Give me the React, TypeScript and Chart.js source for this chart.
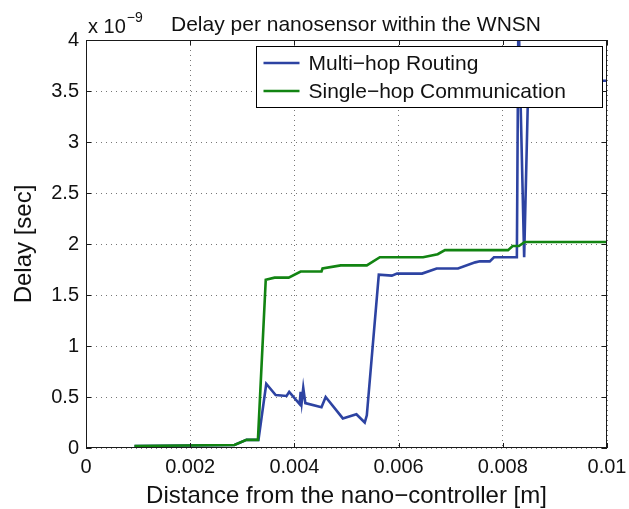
import React, { useEffect, useRef } from "react";
import { Chart, registerables } from "chart.js";

Chart.register(...registerables);

// ---- data (delay in units of 1e-9 s, distance in m) ----
const multiHopDistance = [0.00093, 0.002, 0.00285, 0.00308, 0.00331, 0.00346, 0.00364, 0.00385, 0.0039, 0.0041, 0.00412, 0.00414, 0.00417, 0.00421, 0.00452, 0.0046, 0.00493, 0.00519, 0.00535, 0.00539, 0.00562, 0.00587, 0.00597, 0.00645, 0.00673, 0.00714, 0.00747, 0.00756, 0.00775, 0.00783, 0.00827, 0.0083, 0.00841, 0.00849, 0.01];
const multiHopDelay = [0.02, 0.025, 0.03, 0.08, 0.08, 0.63, 0.52, 0.51, 0.55, 0.43, 0.55, 0.45, 0.59, 0.44, 0.4, 0.5, 0.29, 0.33, 0.25, 0.32, 1.7, 1.69, 1.71, 1.71, 1.76, 1.76, 1.82, 1.83, 1.83, 1.87, 1.87, 4.3, 1.87, 3.6, 3.6];

const singleHopDistance = [0.00093, 0.00285, 0.00308, 0.0033, 0.00345, 0.00362, 0.00389, 0.00412, 0.00452, 0.00454, 0.00489, 0.00539, 0.00564, 0.00647, 0.00675, 0.00689, 0.0081, 0.00819, 0.00831, 0.00842, 0.01];
const singleHopDelay = [0.02, 0.03, 0.08, 0.08, 1.65, 1.67, 1.67, 1.73, 1.73, 1.76, 1.79, 1.79, 1.87, 1.87, 1.9, 1.94, 1.94, 1.98, 1.98, 2.02, 2.02];

const seriesNames = ["Multi\u2212hop Routing", "Single\u2212hop Communication"];
const xTickValues = [0, 0.002, 0.004, 0.006, 0.008, 0.01];
const xTickLabels = ["0", "0.002", "0.004", "0.006", "0.008", "0.01"];
const yTickValues = [0, 0.5, 1, 1.5, 2, 2.5, 3, 3.5, 4];
const yTickLabels = ["0", "0.5", "1", "1.5", "2", "2.5", "3", "3.5", "4"];

const titleText = "Delay per nanosensor within the WNSN";
const xTitle = "Distance from the nano\u2212controller [m]";
const yTitle = "Delay [sec]";
const multiplierBase = "x 10";
const multiplierExp = "\u22129";

const BLUE = "#2d43a2";
const GREEN = "#128412";
const FONT = "'Liberation Sans', Arial, Helvetica, sans-serif";

const decorPlugin = {
  id: "decor",
  afterDraw(chart: any) {
    const ctx = chart.ctx as CanvasRenderingContext2D;
    const { left, right, top, bottom } = chart.chartArea;
    const xs = chart.scales.x;
    const ys = chart.scales.y;
    ctx.save();

    // legend
    const lx0 = right - 350.5, lx1 = right - 4.5, ly0 = top + 6.5, ly1 = top + 67.5;
    ctx.fillStyle = "#fff";
    ctx.fillRect(lx0, ly0, lx1 - lx0, ly1 - ly0);
    ctx.strokeStyle = "#000";
    ctx.lineWidth = 1;
    ctx.strokeRect(lx0, ly0, lx1 - lx0, ly1 - ly0);
    const rows = [top + 23, top + 51];
    const colors = [BLUE, GREEN];
    ctx.font = `21px ${FONT}`;
    ctx.textBaseline = "middle";
    ctx.textAlign = "left";
    for (let i = 0; i < 2; i++) {
      ctx.strokeStyle = colors[i];
      ctx.lineWidth = 2.6;
      ctx.beginPath();
      ctx.moveTo(lx0 + 7, rows[i]);
      ctx.lineTo(lx0 + 43, rows[i]);
      ctx.stroke();
      ctx.fillStyle = "#111";
      ctx.fillText(seriesNames[i], lx0 + 52, rows[i] + 1);
    }

    // frame
    ctx.strokeStyle = "#1a1a1a";
    ctx.lineWidth = 1;
    ctx.strokeRect(left + 0.5, top + 0.5, right - left - 1, bottom - top - 1);

    // inward ticks
    ctx.beginPath();
    for (const v of xTickValues) {
      const px = Math.round(xs.getPixelForValue(v)) + 0.5;
      ctx.moveTo(px, bottom);
      ctx.lineTo(px, bottom - 5);
      ctx.moveTo(px, top);
      ctx.lineTo(px, top + 5);
    }
    for (const v of yTickValues) {
      const py = Math.round(ys.getPixelForValue(v)) + 0.5;
      ctx.moveTo(left, py);
      ctx.lineTo(left + 5, py);
      ctx.moveTo(right, py);
      ctx.lineTo(right - 5, py);
    }
    ctx.stroke();

    // title
    ctx.fillStyle = "#111";
    ctx.textBaseline = "alphabetic";
    ctx.font = `21px ${FONT}`;
    ctx.fillText(titleText, 171, 31);

    // multiplier
    ctx.font = `20px ${FONT}`;
    ctx.fillText(multiplierBase, 88, 33);
    const w = ctx.measureText(multiplierBase).width;
    ctx.font = `14px ${FONT}`;
    ctx.fillText(multiplierExp, 88 + w + 1, 22);

    // axis titles
    ctx.font = `24px ${FONT}`;
    ctx.textAlign = "center";
    ctx.fillText(xTitle, (left + right) / 2, 503);
    ctx.save();
    ctx.translate(31, (top + bottom) / 2);
    ctx.rotate(-Math.PI / 2);
    ctx.fillText(yTitle, 0, 0);
    ctx.restore();

    ctx.restore();
  },
};

export default function App() {
  const ref = useRef<HTMLCanvasElement | null>(null);
  useEffect(() => {
    if (!ref.current) return;
    const chart = new Chart(ref.current, {
      type: "line",
      data: {
        datasets: [
          {
            label: seriesNames[0],
            data: multiHopDistance.map((x, i) => ({ x, y: multiHopDelay[i] })),
            borderColor: BLUE,
            backgroundColor: BLUE,
            borderWidth: 2.6,
            pointRadius: 0,
            tension: 0,
            order: 1,
          },
          {
            label: seriesNames[1],
            data: singleHopDistance.map((x, i) => ({ x, y: singleHopDelay[i] })),
            borderColor: GREEN,
            backgroundColor: GREEN,
            borderWidth: 2.6,
            pointRadius: 0,
            tension: 0,
            order: 0,
          },
        ],
      },
      options: {
        animation: false,
        responsive: false,
        devicePixelRatio: 1,
        layout: { padding: { left: 0, right: 22, top: 40, bottom: 0 } },
        plugins: { legend: { display: false }, tooltip: { enabled: false }, title: { display: false } },
        scales: {
          x: {
            type: "linear",
            min: 0,
            max: 0.01,
            afterFit: (s: any) => { s.height = 61; s.paddingLeft = 0; s.paddingRight = 0; },
            afterBuildTicks: (s: any) => { s.ticks = xTickValues.map((v) => ({ value: v })); },
            ticks: {
              autoSkip: false,
              maxRotation: 0,
              padding: 7,
              color: "#111",
              font: { family: FONT, size: 20 },
              callback: (v: any) => xTickLabels[xTickValues.indexOf(v)] ?? "",
            },
            grid: { color: "#777", lineWidth: 1, drawTicks: false },
            border: { display: false, dash: [1, 4] },
          },
          y: {
            type: "linear",
            min: 0,
            max: 4,
            afterFit: (s: any) => { s.width = 86; s.paddingTop = 0; s.paddingBottom = 0; },
            afterBuildTicks: (s: any) => { s.ticks = yTickValues.map((v) => ({ value: v })); },
            ticks: {
              autoSkip: false,
              padding: 7,
              color: "#111",
              font: { family: FONT, size: 20 },
              callback: (v: any) => yTickLabels[yTickValues.indexOf(v)] ?? "",
            },
            grid: { color: "#777", lineWidth: 1, drawTicks: false },
            border: { display: false, dash: [1, 4] },
          },
        },
      },
      plugins: [decorPlugin],
    });
    return () => chart.destroy();
  }, []);
  return (
    <div style={{ position: "absolute", left: 0, top: 0, width: 629, height: 509, background: "#fff" }}>
      <canvas ref={ref} width={629} height={509} style={{ display: "block" }} />
    </div>
  );
}
